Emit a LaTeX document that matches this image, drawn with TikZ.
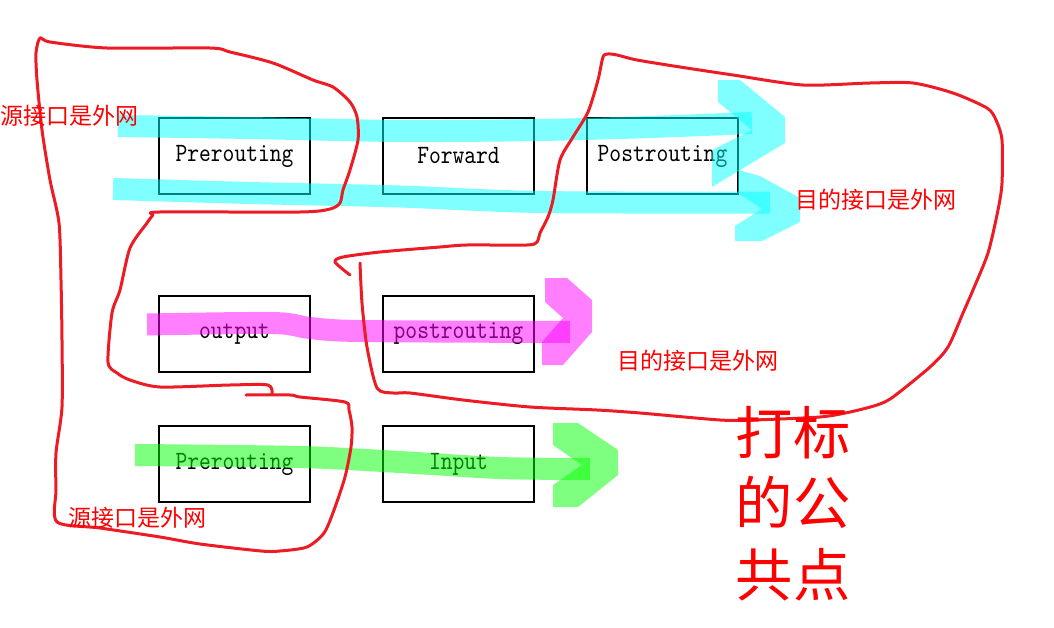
\documentclass[tikz,border=0pt]{standalone}
\usepackage{fontspec}
\newfontfamily\cjkfont{Noto Sans CJK SC}
\newfontfamily\boxfont{lmmono10-regular.otf}[FakeStretch=0.85]
\definecolor{penred}{RGB}{237,28,36}
\definecolor{hlcyan}{RGB}{0,255,255}
\definecolor{hlmag}{RGB}{255,0,255}
\definecolor{hlgreen}{RGB}{0,255,0}
\definecolor{txtred}{RGB}{255,0,0}
\tikzset{
  stage/.style={draw=black, line width=0.9pt, minimum width=113.25pt, minimum height=57pt, inner sep=0pt,
    font={\boxfont\fontsize{19.8pt}{22pt}\selectfont}},
  redlabel/.style={text=txtred, inner sep=0pt, anchor=west, font={\cjkfont\fontsize{17.25pt}{20pt}\selectfont}},
  bigcjk/.style={text=txtred, inner sep=0pt, font={\cjkfont\fontsize{43pt}{50pt}\selectfont}},
  redpen/.style={draw=penred, line width=2.25pt, line cap=round, line join=round},
  band/.style={line width=16.5pt, opacity=0.5, line cap=butt},
  chevron/.style={opacity=0.5, draw=none}
}
\begin{document}
\begin{tikzpicture}[x=0.75pt, y=-0.75pt]
\useasboundingbox (0,0) rectangle (1054,628);
% stage boxes
\node[stage] (pre1) at (234.5,156) {Prerouting};
\node[stage] (fwd) at (458.5,156) {Forward};
\node[stage] (post1) at (662.5,156) {Postrouting};
\node[stage] (out) at (234.5,334) {output};
\node[stage] (post2) at (458.5,334) {postrouting};
\node[stage] (pre2) at (234.5,464) {Prerouting};
\node[stage] (inp) at (458.5,464) {Input};
% highlighter bands
\draw[band, hlcyan] plot[smooth, tension=0.5] coordinates {(118,126) (250,128) (400,131) (540,130) (650,127) (752,123)};
\draw[band, hlcyan] plot[smooth, tension=0.5] coordinates {(113,189) (250,193) (400,196.5) (540,202) (770,202.5)};
\fill[chevron, hlcyan] (718,80) -- (740,80) -- (785,117) -- (785,143) -- (740,170) -- (712,187) -- (712,150) -- (752,130) -- (718,102) -- cycle;
\fill[chevron, hlcyan] (738,170) -- (760,176) -- (800,198) -- (800,222) -- (762,241) -- (735,241) -- (735,226) -- (762,209) -- (738,193) -- cycle;
\draw[band, hlmag] plot[smooth, tension=0.5] coordinates {(147,324.5) (273,323) (310,328) (360,331) (570,332)};
\fill[chevron, hlmag] (545,278) -- (567,278) -- (592,300) -- (592,332) -- (563,365) -- (542,365) -- (542,342) -- (563,318) -- (545,302) -- cycle;
\draw[band, hlgreen] plot[smooth, tension=0.5] coordinates {(135,455) (300,457) (400,462) (500,468) (590,469)};
\fill[chevron, hlgreen] (553,423) -- (578,423) -- (618,450) -- (618,475) -- (578,507) -- (553,507) -- (553,485) -- (582,465) -- (553,445) -- cycle;
% red pen loops
\draw[redpen] plot[smooth, tension=0.45] coordinates {(246,395) (290,395) (300,397) (345,402) (349,410) (352,427) (351,447) (345,477) (334,510) (324,533) (307,547) (280,551) (261,551) (200,544) (160,537) (100,528) (57,522) (56,490) (56,453) (62,407) (62,340) (61,280) (59,223) (50,180) (42,130) (37,80) (36,53) (40,38) (50,42) (107,48) (210,48) (230,52) (273,63) (313,80) (333,87) (350,102) (357,117) (358,140) (350,170) (343,190) (340,203) (330,209) (300,212) (160,212) (153,215) (147,223) (130,248) (120,290) (112,313) (108,362) (117,373) (130,380) (160,387) (230,385) (268,385) (272,394)};
\draw[redpen] plot[smooth, tension=0.45] coordinates {(350,275) (335,262) (343,257) (380,252) (440,247) (467,245) (527,245) (537,242) (540,233) (548,217) (553,200) (560,160) (573,137) (588,112) (598,80) (603,57) (608,54) (617,55) (637,60) (680,67) (733,75) (803,85) (870,83) (913,83) (953,93) (987,108) (996,120) (1002,140) (1002,183) (998,210) (988,253) (973,290) (963,313) (948,347) (930,367) (893,397) (877,405) (850,412) (820,417) (753,420) (720,420) (640,413) (597,410) (530,407) (463,400) (410,393) (393,393) (377,388) (367,347) (362,303) (360,263)};
% red labels
\node[redlabel] (src1) at (0,116) {源接口是外网};
\node[redlabel] (dst1) at (795,200) {目的接口是外网};
\node[redlabel] (dst2) at (617,361) {目的接口是外网};
\node[redlabel] (src2) at (68,518) {源接口是外网};
\node[bigcjk] (big1) at (793,433) {打标};
\node[bigcjk] (big2) at (793,502) {的公};
\node[bigcjk] (big3) at (793,575) {共点};
\end{tikzpicture}
\end{document}
